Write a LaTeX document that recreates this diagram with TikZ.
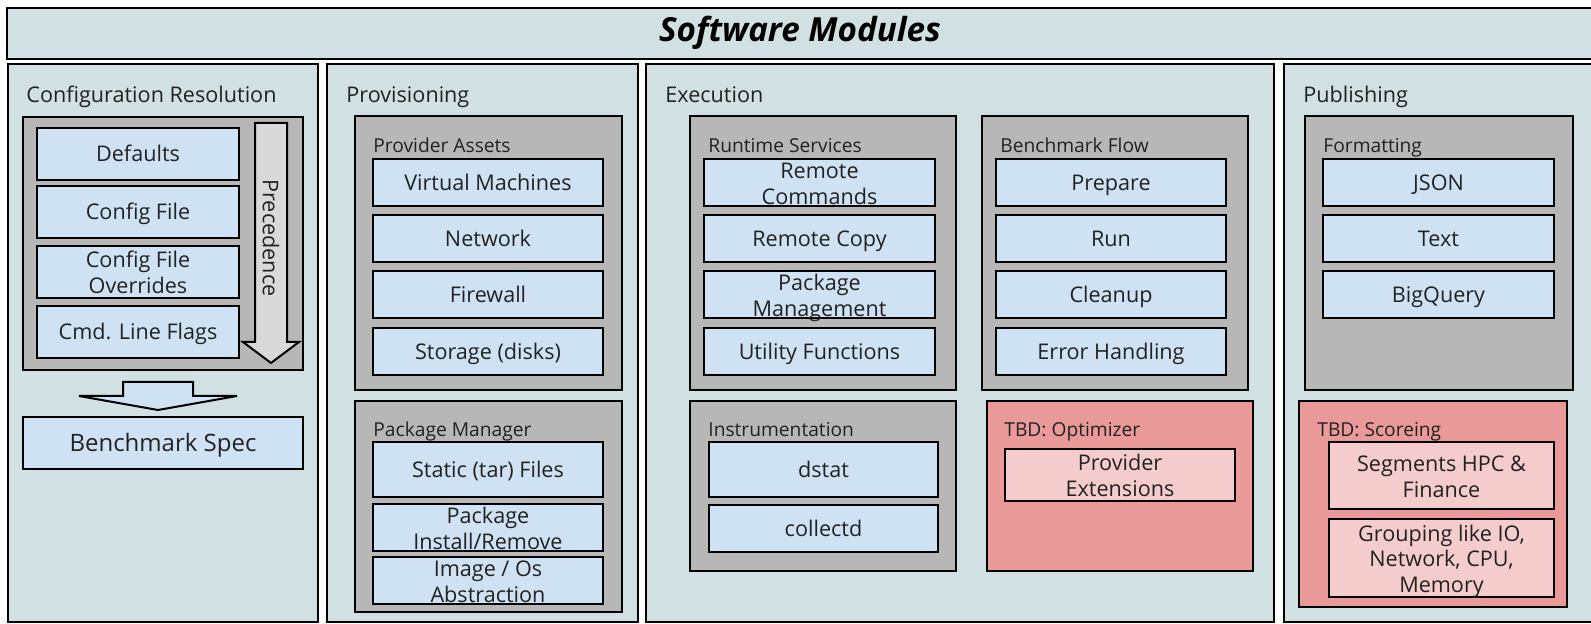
\documentclass[tikz,border=0pt]{standalone}
\usepackage{fontspec}
\setmainfont{Open Sans}
\definecolor{panelc}{HTML}{D0E0E3}
\definecolor{grpc}{HTML}{B7B7B7}
\definecolor{itemc}{HTML}{CFE2F3}
\definecolor{tbdc}{HTML}{EA9999}
\definecolor{tbdi}{HTML}{F4CCCC}
\definecolor{precc}{HTML}{D9D9D9}
\definecolor{txt}{HTML}{222222}
\newcommand\bx[7]{%
  \node[#6, minimum width={(#4-#2)*0.5pt}, minimum height={(#5-#3)*0.5pt}] (#1) at ({(#2+#4)/2},{(#3+#5)/2}) {};
  \node[#6, draw=none, fill=none] (#1-t) at (#1.center) {#7};}
\newcommand\lnstrut{\rule[-0.24em]{0pt}{1.19em}}
\newcommand\mlstrut{\rule{0pt}{1.05em}}
\tikzset{
  box/.style={draw=black, line width=1pt, inner sep=0pt, outer sep=0pt, align=center, text=txt, font=\fontsize{10.8}{12.8}\selectfont,
    execute at begin node=\lnstrut, execute at end node=\lnstrut},
  panel/.style={box, fill=panelc},
  grp/.style={box, fill=grpc},
  item/.style={box, fill=itemc},
  tbd/.style={box, fill=tbdc},
  tbdit/.style={box, fill=tbdi},
  plab/.style={anchor=west, inner sep=0pt, text=txt, font=\fontsize{10.8}{12.4}\selectfont, execute at begin node=\lnstrut},
  glab/.style={anchor=west, inner sep=0pt, text=txt, font=\fontsize{9.6}{11}\selectfont, execute at begin node=\lnstrut},
  blockarrow/.style={draw=black, line width=1pt, line join=miter}
}
\begin{document}
\begin{tikzpicture}[x=0.5pt, y=-0.5pt]
\useasboundingbox (0,0) rectangle (1591,624);
\clip (0,0) rectangle (1591,624);
% title
\bx{titlebox}{7}{8}{1620}{59}{panel}{}
\node[inner sep=0pt, text=black, font=\fontsize{16.6}{19}\selectfont\bfseries\itshape] (ttl) at (800,33) {Software Modules};
% panels
\bx{cfg}{8}{64}{318}{622}{panel}{}
\bx{prov}{327}{64}{638}{622}{panel}{}
\bx{exec}{646}{64}{1274}{622}{panel}{}
\bx{pub}{1284}{64}{1620}{622}{panel}{}
\node[plab] (lcfg) at (26,95) {Configuration Resolution};
\node[plab] (lprov) at (346,95) {Provisioning};
\node[plab] (lexec) at (665,95) {Execution};
\node[plab] (lpub) at (1303,95) {Publishing};
% configuration resolution
\bx{cgrp}{23}{117}{303}{370}{grp}{}
\bx{defaults}{37}{128}{239}{180}{item}{Defaults}
\bx{cfile}{37}{186}{239}{238}{item}{Config File}
\bx{cover}{37}{246}{239}{298}{item}{\mlstrut Config File\\Overrides}
\bx{ccmd}{37}{306}{239}{358}{item}{Cmd. Line Flags}
\draw[blockarrow, fill=precc] (255,123) -- (287,123) -- (287,342) -- (299,342) -- (271,363) -- (243,342) -- (255,342) -- cycle;
\node[inner sep=0pt, rotate=-90, text=txt, font=\fontsize{10.8}{12.4}\selectfont] (prec) at (271,238) {Precedence};
\draw[blockarrow, fill=itemc] (123,382) -- (193,382) -- (193,396) -- (237,396) -- (158,410) -- (79,396) -- (123,396) -- cycle;
\bx{bspec}{23}{417}{303}{469}{item, font=\fontsize{12}{14}\selectfont}{Benchmark Spec}
% provisioning
\bx{pa}{355}{116}{622}{390}{grp}{}
\node[glab] (lpa) at (373,146) {Provider Assets};
\bx{vm}{373}{159}{603}{206}{item}{Virtual Machines}
\bx{net}{373}{215}{603}{262}{item}{Network}
\bx{fw}{373}{271}{603}{318}{item}{Firewall}
\bx{sto}{373}{328}{603}{375}{item}{Storage (disks)}
\bx{pm}{355}{401}{622}{612}{grp}{}
\node[glab] (lpm) at (373,430) {Package Manager};
\bx{stat}{373}{442}{603}{497}{item}{Static (tar) Files}
\bx{inst}{373}{504}{603}{551}{item}{\mlstrut Package\\Install/Remove}
\bx{img}{373}{557}{603}{604}{item}{\mlstrut Image / Os\\Abstraction}
% execution
\bx{rs}{690}{116}{956}{390}{grp}{}
\node[glab] (lrs) at (708,146) {Runtime Services};
\bx{rc}{704}{159}{935}{206}{item}{\mlstrut Remote\\Commands}
\bx{rcp}{704}{215}{935}{262}{item}{Remote Copy}
\bx{pkg}{704}{271}{935}{318}{item}{\mlstrut Package\\Management}
\bx{util}{704}{328}{935}{375}{item}{Utility Functions}
\bx{bf}{982}{116}{1248}{390}{grp}{}
\node[glab] (lbf) at (1000,146) {Benchmark Flow};
\bx{prep}{996}{159}{1226}{206}{item}{Prepare}
\bx{run}{996}{215}{1226}{262}{item}{Run}
\bx{clean}{996}{271}{1226}{318}{item}{Cleanup}
\bx{err}{996}{328}{1226}{375}{item}{Error Handling}
\bx{instr}{690}{401}{956}{571}{grp}{}
\node[glab] (linstr) at (708,430) {Instrumentation};
\bx{dstat}{709}{442}{938}{497}{item}{dstat}
\bx{coll}{709}{505}{938}{552}{item}{collectd}
\bx{opt}{987}{401}{1253}{571}{tbd}{}
\node[glab] (lopt) at (1004,430) {TBD: Optimizer};
\bx{pext}{1005}{449}{1235}{501}{tbdit}{\mlstrut Provider\\Extensions}
% publishing
\bx{fmt}{1305}{116}{1573}{390}{grp}{}
\node[glab] (lfmt) at (1323,146) {Formatting};
\bx{json}{1323}{159}{1554}{206}{item}{JSON}
\bx{ftext}{1323}{215}{1554}{262}{item}{Text}
\bx{bq}{1323}{271}{1554}{318}{item}{BigQuery}
\bx{score}{1299}{401}{1567}{607}{tbd}{}
\node[glab] (lscore) at (1317,430) {TBD: Scoreing};
\bx{seg}{1329}{442}{1554}{509}{tbdit}{\mlstrut Segments HPC \&\\Finance}
\bx{grouping}{1329}{519}{1554}{597}{tbdit}{\mlstrut Grouping like IO,\\Network, CPU,\\Memory}
\end{tikzpicture}
\end{document}
